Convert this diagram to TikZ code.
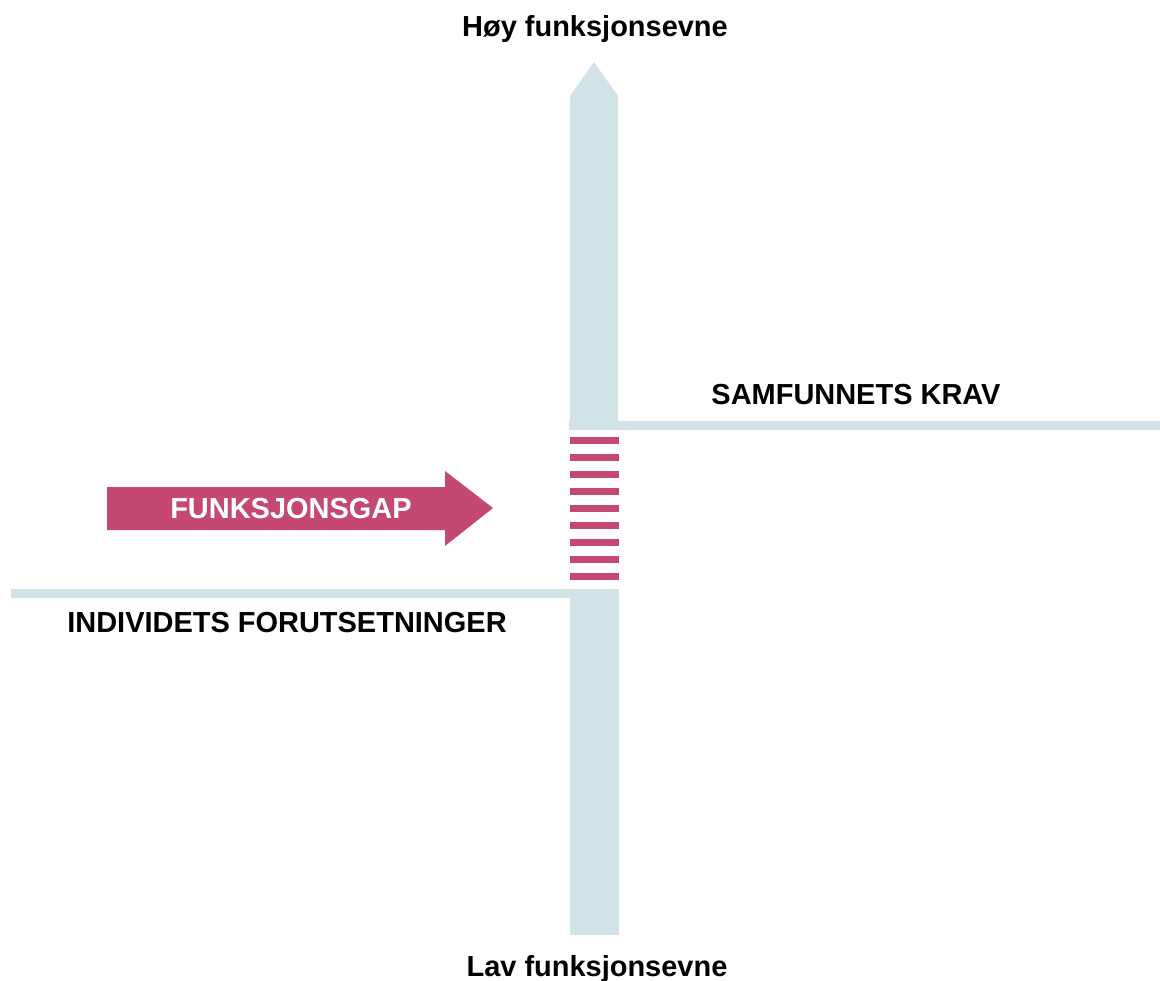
\documentclass[tikz,border=0pt]{standalone}
\usepackage{fontspec}
\setmainfont{Liberation Sans}
\usetikzlibrary{calc}
\definecolor{axisblue}{RGB}{209,227,230}
\definecolor{gappink}{RGB}{196,72,115}

\begin{document}
\begin{tikzpicture}[x=0.025cm, y=-0.025cm]
  % Styles for the axis bars, the gap stripes and the labels
  \tikzset{
    axisbar/.style={fill=axisblue, draw=none},
    gapstripe/.style={fill=gappink, draw=none},
    axislabel/.style={font=\fontsize{20.6pt}{24pt}\selectfont\bfseries, inner sep=0pt}
  }

  \useasboundingbox (0,0) rectangle (1160,981);

  % Vertical axis with arrow head on top
  \fill[axisbar] (570,430) -- (570,96) -- (594,62) -- (618,96) -- (618,430) -- cycle;
  \fill[axisbar] (570,589) rectangle (619,935);

  % Horizontal levels
  \fill[axisbar] (569,421) rectangle (1160,430);
  \fill[axisbar] (11,589) rectangle (570,598);

  % Stripes marking the gap
  \foreach \i in {0,...,8}{
    \fill[gapstripe] (570,{437+17*\i}) rectangle (619,{444+17*\i});
  }

  % Big arrow pointing into the gap
  \fill[gapstripe] (107,487) -- (445,487) -- (445,471) -- (493,508)
    -- (445,546) -- (445,530) -- (107,530) -- cycle;
  \node[axislabel, text=white] (gap) at (291,509) {FUNKSJONSGAP};

  \node[axislabel] (high) at (595,29) {Høy funksjonsevne};
  \node[axislabel] (low) at (597,969) {Lav funksjonsevne};
  \node[axislabel] (society) at (856,395) {SAMFUNNETS KRAV};
  \node[axislabel] (individual) at (287,623) {INDIVIDETS FORUTSETNINGER};
\end{tikzpicture}
\end{document}
